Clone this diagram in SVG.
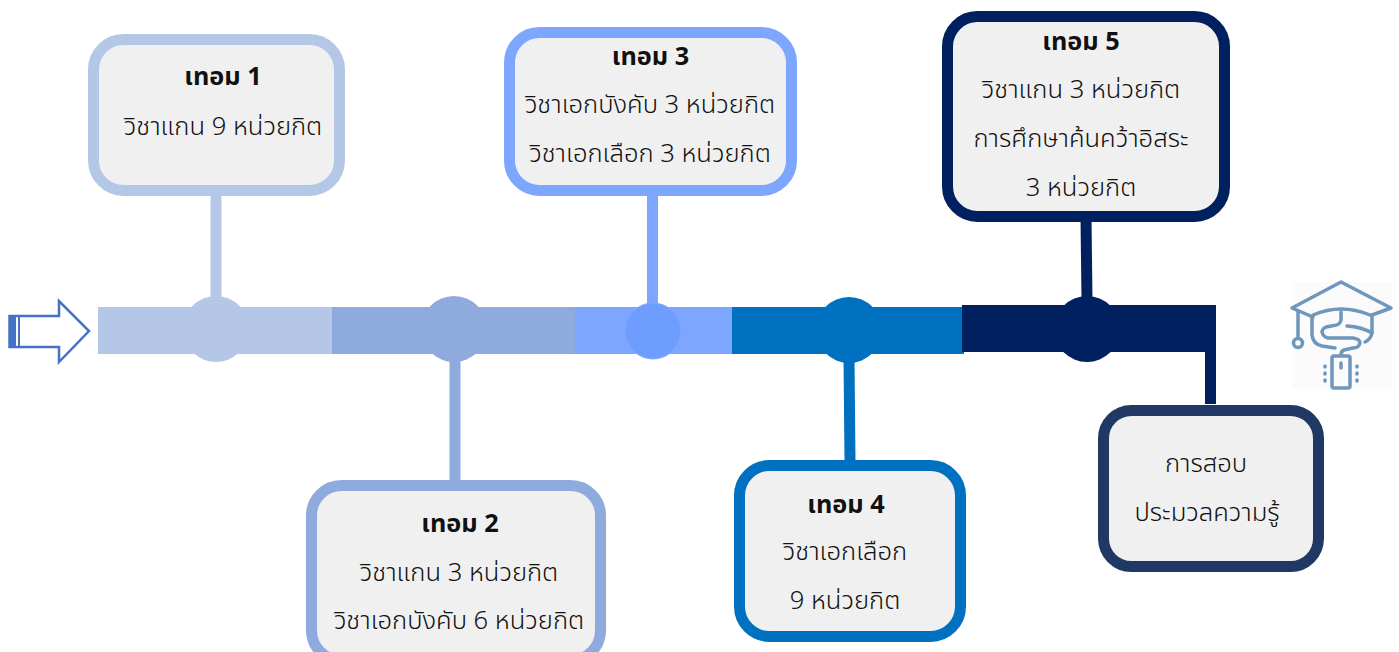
<svg xmlns="http://www.w3.org/2000/svg" width="1399" height="652" viewBox="0 0 1399 652">
<style>
text{font-family:"Noto Sans Thai","Noto Sans","DejaVu Sans","Liberation Sans",sans-serif;font-size:25.600px;font-weight:300;fill:#111;text-anchor:middle}
text.h{font-weight:700;font-size:25.300px}
.box{fill:#f0f0f0;stroke-width:11}
.ic{fill:none;stroke:#6f97bd;stroke-width:3.500;stroke-linecap:round;stroke-linejoin:round}
</style>
<g id="connectors" fill="none" stroke-width="11">
<path d="M216 190V300" stroke="#b4c7e7"/>
<path d="M455 358V484" stroke="#8faadc"/>
<path d="M652.500 190V306" stroke="#7da7ff"/>
<path d="M849 358L850 462" stroke="#0070c0"/>
<path d="M1086 218L1087 300" stroke="#002060"/>
<path d="M1210.500 350V404" stroke="#002060"/>
</g>
<g id="timeline">
<rect x="98" y="307" width="234" height="47" fill="#b4c7e7"/>
<rect x="332" y="307" width="243" height="47" fill="#8faadc"/>
<rect x="575" y="307" width="157" height="47" fill="#7da7ff"/>
<rect x="732" y="307" width="232" height="47" fill="#0070c0"/>
<rect x="962" y="305" width="254" height="47" fill="#002060"/>
<circle cx="216" cy="329" r="33" fill="#b4c7e7"/>
<circle cx="454" cy="329" r="33" fill="#8faadc"/>
<circle cx="653" cy="331" r="28" fill="#6f9dff" stroke="#7da7ff" stroke-width="1"/>
<circle cx="849" cy="330" r="33" fill="#0070c0"/>
<circle cx="1087" cy="329" r="33" fill="#002060"/>
</g>
<g id="start-arrow">
<path d="M9.500 316H59V301L89 331L59 362V347H9.500Z" fill="#fff" stroke="#4472c4" stroke-width="2.500"/>
<rect x="9" y="315" width="7" height="33" fill="#4472c4"/>
<rect x="18" y="316" width="2" height="31" fill="#4472c4"/>
</g>
<g id="term1"><rect class="box" x="93.500" y="39.500" width="246" height="151" rx="30" stroke="#b4c7e7"/>
<text class="h" x="223" y="85">เทอม 1</text><text x="223" y="135">วิชาแกน 9 หน่วยกิต</text></g>
<g id="term2"><rect class="box" x="311.500" y="485.500" width="289" height="175" rx="30" stroke="#8faadc"/>
<text class="h" x="460" y="532">เทอม 2</text><text x="459" y="581">วิชาแกน 3 หน่วยกิต</text><text x="459" y="629">วิชาเอกบังคับ 6 หน่วยกิต</text></g>
<g id="term3"><rect class="box" x="509.500" y="32.500" width="282" height="158" rx="30" stroke="#7da7ff"/>
<text class="h" x="650.500" y="65">เทอม 3</text><text x="650" y="113">วิชาเอกบังคับ 3 หน่วยกิต</text><text x="650" y="162">วิชาเอกเลือก 3 หน่วยกิต</text></g>
<g id="term4"><rect class="box" x="739.500" y="465.500" width="221" height="171" rx="30" stroke="#0070c0"/>
<text class="h" x="846" y="513">เทอม 4</text><text x="845" y="560">วิชาเอกเลือก</text><text x="845" y="609">9 หน่วยกิต</text></g>
<g id="term5"><rect class="box" x="947.500" y="16.500" width="277" height="200" rx="30" stroke="#002060"/>
<text class="h" x="1081" y="50">เทอม 5</text><text x="1081" y="98">วิชาแกน 3 หน่วยกิต</text><text x="1081" y="147">การศึกษาค้นคว้าอิสระ</text><text x="1081" y="196">3 หน่วยกิต</text></g>
<g id="exam"><rect class="box" x="1103.500" y="410.500" width="215" height="156" rx="28" stroke="#1f3864"/>
<text x="1206" y="472">การสอบ</text><text x="1207" y="521">ประมวลความรู้</text></g>
<g id="graduation-icon">
<rect x="1292" y="282" width="100" height="107" fill="#fbfbfb"/>
<path class="ic" d="M1313 317L1292 308L1341 282L1391 308L1372 315"/>
<path class="ic" d="M1313 315Q1341 303 1370 315"/>
<path class="ic" d="M1298 311V338"/>
<circle class="ic" cx="1298" cy="343" r="4.500"/>
<path class="ic" d="M1312 317V335Q1313 344 1322 346L1335 348"/>
<path class="ic" d="M1372 315V333Q1371 339 1365 342"/>
<path class="ic" d="M1341 312V320Q1340 325 1334 325.500L1326 327Q1322 329 1322 332Q1323 337 1328 338H1353Q1360 339 1360 343Q1359 348 1353 348L1344 350Q1341 351 1341 355"/>
<path class="ic" d="M1347 326Q1362 327 1372 333"/>
<rect class="ic" x="1332" y="356" width="18" height="32" rx="2"/>
<path class="ic" d="M1341 363V368M1325 366V367M1325 373V374M1325 380V381M1357 366V367M1357 373V374M1357 380V381"/>
</g>
</svg>
